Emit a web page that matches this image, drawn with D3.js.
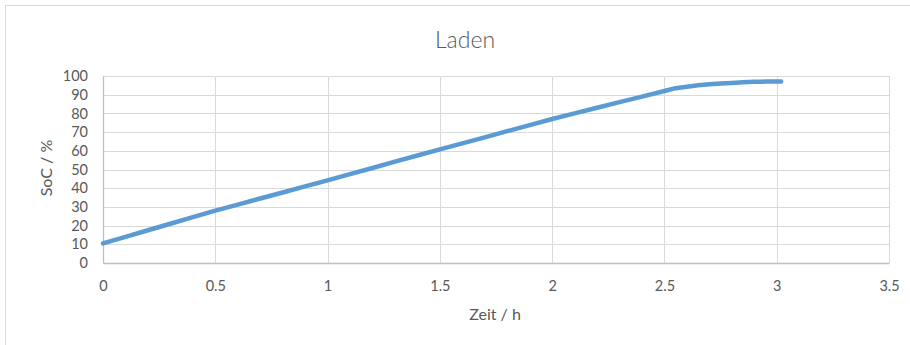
<!DOCTYPE html>
<html>
<head>
<meta charset="utf-8">
<script src="https://cdn.jsdelivr.net/npm/d3@7"></script>
<style>
    body { margin: 0; background: #fff; }
    #chart text { font-family: Lato, "Open Sans", sans-serif; fill: #595959; }
</style>
</head>
<body>
<div id="chart"></div>
<script>

// Data
let timeH = [0, 0.1, 0.2, 0.3, 0.4, 0.5, 0.6, 0.7, 0.8, 0.9, 1.0, 1.1, 1.2, 1.3, 1.4,
    1.5, 1.6, 1.7, 1.8, 1.9, 2.0, 2.1, 2.2, 2.3, 2.4, 2.5, 2.55, 2.6, 2.65, 2.7,
    2.75, 2.8, 2.85, 2.9, 2.95, 3.02];
let soc = [10.5, 14, 17.5, 21, 24.5, 28, 31.2, 34.5, 37.7, 41, 44.2, 47.5, 50.8, 54.2, 57.5,
    60.8, 64, 67.2, 70.5, 73.7, 77, 80, 83, 86, 89, 92, 93.5, 94.3, 95, 95.6,
    96, 96.3, 96.6, 96.9, 97, 97.1];
let xTicks = [0, 0.5, 1, 1.5, 2, 2.5, 3, 3.5];
let yTicks = [0, 10, 20, 30, 40, 50, 60, 70, 80, 90, 100];

let data = timeH.map((t, i) => ({ t: t, v: soc[i] }));

let W = 910, H = 345;
let margin = { top: 76, right: 21, bottom: 82, left: 103 };
let width = W - margin.left - margin.right,
    height = H - margin.top - margin.bottom;

let svg = d3.select("#chart").append("svg")
    .attr("width", W)
    .attr("height", H);

// chart frame
svg.append("rect")
    .attr("x", 5.5).attr("y", 5.5)
    .attr("width", W).attr("height", H)
    .attr("fill", "none")
    .attr("stroke", "#d9d9d9");

let g = svg.append("g")
    .attr("transform", "translate(" + margin.left + "," + margin.top + ")");

// Scales
let x = d3.scaleLinear().domain([0, 3.5]).range([0, width]);
let y = d3.scaleLinear().domain([0, 100]).range([height, 0]);

// Gridlines
g.append("g").selectAll("line.hgrid")
    .data(yTicks.filter(d => d > 0))
    .enter().append("line")
    .attr("x1", 0).attr("x2", width)
    .attr("y1", d => Math.round(y(d)) + 0.5).attr("y2", d => Math.round(y(d)) + 0.5)
    .attr("stroke", "#d9d9d9");

g.append("g").selectAll("line.vgrid")
    .data(xTicks.filter(d => d > 0))
    .enter().append("line")
    .attr("y1", 0).attr("y2", height)
    .attr("x1", d => Math.round(x(d)) + 0.5).attr("x2", d => Math.round(x(d)) + 0.5)
    .attr("stroke", "#d9d9d9");

// Axes
let xAxis = d3.axisBottom(x).tickValues(xTicks).tickSize(0).tickPadding(18)
    .tickFormat(d => d);
let yAxis = d3.axisLeft(y).tickValues(yTicks).tickSize(0).tickPadding(15);

let gx = g.append("g")
    .attr("transform", "translate(0," + height + ")")
    .call(xAxis);
gx.select(".domain").attr("stroke", "#bfbfbf").attr("stroke-width", 1.3);
gx.selectAll("text").style("font-size", "14.5px");

let gy = g.append("g").call(yAxis);
gy.select(".domain").attr("stroke", "#bfbfbf").attr("stroke-width", 1.3);
gy.selectAll("text").style("font-size", "14.5px");

// Line
let line = d3.line()
    .x(d => x(d.t))
    .y(d => y(d.v));

g.append("path")
    .datum(data)
    .attr("fill", "none")
    .attr("stroke", "#5b9bd5")
    .attr("stroke-width", 4.5)
    .attr("stroke-linecap", "round")
    .attr("stroke-linejoin", "round")
    .attr("d", line);

// Title
svg.append("text")
    .attr("x", 465).attr("y", 48)
    .attr("text-anchor", "middle")
    .style("font-size", "23px")
    .style("font-weight", 300)
    .text("Laden");

// Axis titles
svg.append("text")
    .attr("x", 495).attr("y", 320)
    .attr("text-anchor", "middle")
    .style("font-size", "16px")
    .text("Zeit / h");

svg.append("text")
    .attr("transform", "translate(52," + 168 + ") rotate(-90)")
    .attr("text-anchor", "middle")
    .style("font-size", "16px")
    .text("SoC / %");

</script>
</body>
</html>
